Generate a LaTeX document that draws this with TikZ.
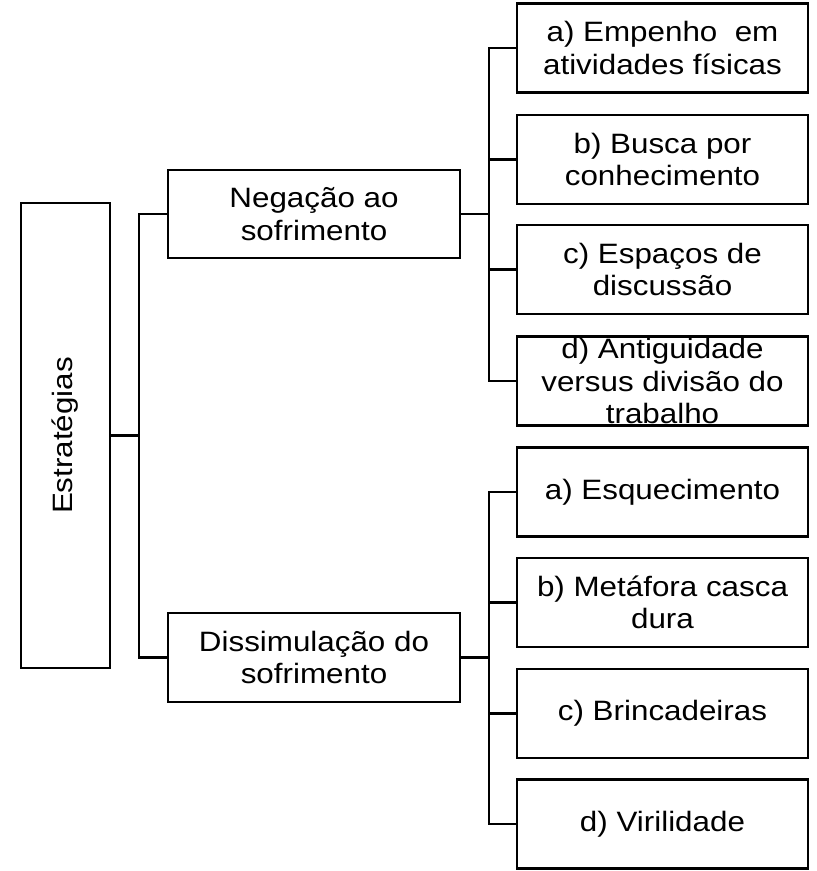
\documentclass[tikz,border=0pt]{standalone}
\usepackage{fontspec}
\setmainfont[FakeStretch=1.12]{Liberation Sans}
\begin{document}
\begin{tikzpicture}[x=1pt,y=-1pt,
  txt/.style={font=\fontsize{28}{32.5}\selectfont},
  box/.style={draw=black, line width=2.8pt, inner sep=0pt, align=center,
    minimum width=291pt, minimum height=89pt, txt},
  link/.style={draw=black, line width=2.8pt}]
\useasboundingbox[fill=white] (0,0) rectangle (817,871);
\node[box, minimum width=89pt, minimum height=465pt] (est) at (65.5,435.5) {};
\node[rotate=90, txt] (estt) at (est.center) {Estratégias};
\node[box, minimum width=292pt, minimum height=88pt] (neg) at (314,214) {Negação ao\\sofrimento};
\node[box, minimum width=292pt, minimum height=89pt] (dis) at (314,657.5) {Dissimulação do\\sofrimento};
\node[box] (a1) at (662.5,48) {a) Empenho\ \ em\\atividades físicas};
\node[box] (b1) at (662.5,159.5) {b) Busca por\\conhecimento};
\node[box] (c1) at (662.5,269.5) {c) Espaços de\\discussão};
\node[box] (d1) at (662.5,381) {d) Antiguidade\\versus divisão do\\trabalho};
\node[box] (a2) at (662.5,492) {a) Esquecimento};
\node[box] (b2) at (662.5,602.5) {b) Metáfora casca\\dura};
\node[box] (c2) at (662.5,713.5) {c) Brincadeiras};
\node[box] (d2) at (662.5,824) {d) Virilidade};
\coordinate (j1) at (139,435.5);
\coordinate (k1) at (489,214);
\coordinate (k2) at (489,657.5);
\draw[link] (est.east) -- (j1);
\draw[link] (neg.west) -| (j1) |- (dis.west);
\draw[link] (neg.east) -- (k1);
\draw[link] (a1.west) -| (k1) |- (d1.west);
\draw[link] (b1.west) -| (k1);
\draw[link] (c1.west) -| (k1);
\draw[link] (dis.east) -- (k2);
\draw[link] (a2.west) -| (k2) |- (d2.west);
\draw[link] (b2.west) -| (k2);
\draw[link] (c2.west) -| (k2);
\end{tikzpicture}
\end{document}
